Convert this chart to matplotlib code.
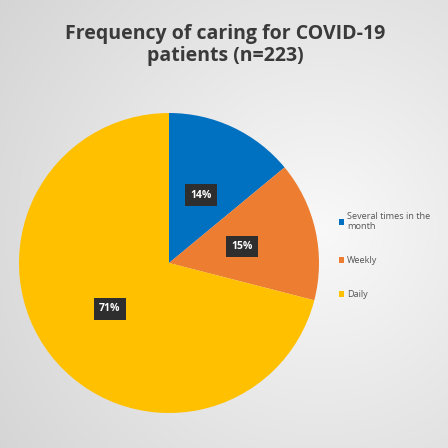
import numpy as np
import matplotlib.pyplot as plt

# data
categories = ['Several times in the\nmonth', 'Weekly', 'Daily']
shares = [14, 15, 71]
colors = ['#0070C0', '#ED7D31', '#FFC000']
title = 'Frequency of caring for COVID-19\npatients (n=223)'

plt.rcParams['font.family'] = ['Open Sans', 'DejaVu Sans']

fig = plt.figure(figsize=(4.48, 4.48), dpi=100)

# soft gray radial background like a projected slide
bg = fig.add_axes([0, 0, 1, 1])
yy, xx = np.mgrid[0:448, 0:448]
d = np.hypot((xx - 320) / 448.0, (yy - 230) / 448.0)
shade = 0.975 - 0.16 * d
bg.imshow(np.dstack([shade] * 3).clip(0, 1), extent=[0, 1, 0, 1], aspect='auto')
bg.set_axis_off()

fig.text(0.503, 0.9, title, ha='center', va='center', fontsize=14,
         fontweight='bold', color='#3a3a3a', linespacing=1.15)

# pie
ax = fig.add_axes([19 / 448, 35 / 448, 300 / 448, 300 / 448])
wedges, texts, autotexts = ax.pie(
    shares, colors=colors, startangle=90, counterclock=False,
    autopct='%1.0f%%', pctdistance=0.5, radius=1,
    wedgeprops=dict(linewidth=0),
)
for t in autotexts:
    t.set_color('white')
    t.set_fontsize(7.5)
    t.set_fontweight('bold')
    t.set_bbox(dict(boxstyle='square,pad=0.5', facecolor='#2e2e2e', edgecolor='none'))
ax.set_xlim(-1, 1)
ax.set_ylim(-1, 1)
ax.set_aspect('equal')
ax.set_axis_off()

# legend
leg = fig.legend(wedges, categories, loc='upper left', bbox_to_anchor=(0.738, 0.546),
                 frameon=False, fontsize=6.6, handlelength=0.6, handleheight=0.6,
                 handletextpad=0.3, labelspacing=2.75, labelcolor='#555555')

fig.savefig('out.png', dpi=100)
